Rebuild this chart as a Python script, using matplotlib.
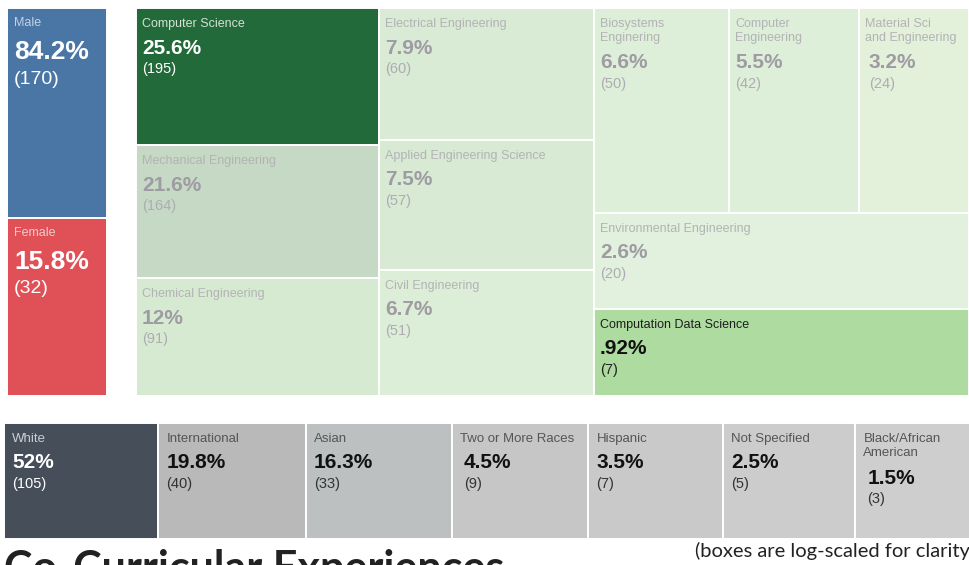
import numpy as np
import matplotlib.pyplot as plt

# ---- data ----
gender = ['Male', 'Female']
gender_pct = ['84.2%', '15.8%']
gender_n = [170, 32]

majors = ['Computer Science', 'Mechanical Engineering', 'Chemical Engineering',
          'Electrical Engineering', 'Applied Engineering Science', 'Civil Engineering',
          'Biosystems\nEnginering', 'Computer\nEngineering', 'Material Sci\nand Engineering',
          'Environmental Engineering', 'Computation Data Science']
major_pct = ['25.6%', '21.6%', '12%', '7.9%', '7.5%', '6.7%',
             '6.6%', '5.5%', '3.2%', '2.6%', '.92%']
major_n = [195, 164, 91, 60, 57, 51, 50, 42, 24, 20, 7]

ethnicity = ['White', 'International', 'Asian', 'Two or More Races', 'Hispanic',
             'Not Specified', 'Black/African\nAmerican']
eth_pct = ['52%', '19.8%', '16.3%', '4.5%', '3.5%', '2.5%', '1.5%']
eth_n = [105, 40, 33, 9, 7, 5, 3]

# ---- styles ----
gender_colors = ['#4a76a6', '#e05157']
major_colors = ['#226a39', '#c6d9c4', '#d6ead2', '#d9ebd5', '#d8ead4', '#dcedd8',
                '#ddefd9', '#ddefd9', '#e3f0da', '#e1f1dd', '#aedb9f']
eth_colors = ['#454e59', '#b9b9b9', '#bcc0c0', '#c6c6c6', '#c9c9c9', '#cccccc', '#cecece']

FONT = 'Liberation Sans'


def split(start, length, weights):
    w = np.asarray(weights, dtype=float)
    edges = start + length * np.concatenate([[0], np.cumsum(w)]) / w.sum()
    return edges[:-1], np.diff(edges)


def box(ax, x, y, w, h, color):
    ax.bar(x, h, width=w, bottom=y, align='edge', color=color,
           edgecolor='white', linewidth=1.4)


def box_text(ax, x, y, name, pct, n, tc, sizes, pct_dx=0):
    label_c, pct_c, n_c = tc
    s_lab, s_pct, s_n, d_pct, d_n = sizes
    extra = name.count('\n')
    ax.text(x, y + 16 + 7 * extra, name, color=label_c, fontsize=s_lab,
            family=FONT, va='center', ha='left', linespacing=1.2)
    py = y + d_pct + 15 * extra
    ax.text(x + pct_dx, py, pct, color=pct_c, fontsize=s_pct, family=FONT,
            fontweight='bold', va='center', ha='left')
    ax.text(x + pct_dx, py + d_n, '(%d)' % n, color=n_c, fontsize=s_n,
            family=FONT, va='center', ha='left')


fig = plt.figure(figsize=(9.69, 5.65), dpi=100)
ax = fig.add_axes([0, 0, 1, 1])
ax.set_xlim(0, 969)
ax.set_ylim(565, 0)
ax.axis('off')

# ---- gender panel (log-scaled heights) ----
gx, gy, gw, gh = 7, 8, 100, 388
tops, hs = split(gy, gh, np.log(gender_n) + 6.1)
for i in range(len(gender)):
    box(ax, gx, tops[i], gw, hs[i], gender_colors[i])
    ax.text(gx + 7, tops[i] + 15, gender[i], color='#f0c8cc' if i else '#c3d1e3',
            fontsize=9, family=FONT, va='center')
    ax.text(gx + 7, tops[i] + 44, gender_pct[i], color='white', fontsize=19,
            family=FONT, fontweight='bold', va='center')
    ax.text(gx + 7, tops[i] + 71, '(%d)' % gender_n[i], color='white',
            fontsize=14, family=FONT, va='center')

# ---- majors treemap ----
mx, my, mw, mh = 136, 8, 833, 388
col_share = [243, 215, 375]
columns = [[0, 1, 2], [3, 4, 5], None]
col_left, col_w = split(mx, mw, col_share)
logs = np.log(major_n)
rects = {}
for c in range(2):
    idx = columns[c]
    tops, hs = split(my, mh, logs[idx])
    for k, i in enumerate(idx):
        rects[i] = (col_left[c], tops[k], col_w[c], hs[k])
# third column: a row of three, then two full-width strips
row_tops, row_h = split(my, mh, [205, 96, 87])
lefts, ws = split(col_left[2], col_w[2], logs[[6, 7, 8]])
for k, i in enumerate([6, 7, 8]):
    rects[i] = (lefts[k], row_tops[0], ws[k], row_h[0])
rects[9] = (col_left[2], row_tops[1], col_w[2], row_h[1])
rects[10] = (col_left[2], row_tops[2], col_w[2], row_h[2])

for i in range(len(majors)):
    x, y, w, h = rects[i]
    box(ax, x, y, w, h, major_colors[i])
    if i == 0:
        tc = ('#d3e2d4', 'white', 'white')
    elif i == 10:
        tc = ('#1e1e1e', '#111111', '#222222')
    else:
        tc = ('#b3b3b5', '#9e9ba3', '#aeacb2')
    dx = 4 if i == 8 else 0
    box_text(ax, x + 6, y, majors[i], major_pct[i], major_n[i], tc,
             (9, 15, 10.5, 40, 21), pct_dx=dx)

# ---- ethnicity strip ----
ex, ey, ew, eh = 4, 423, 980, 116
lefts, ws = split(ex, ew, np.log(eth_n) + 16.6)
for i in range(len(ethnicity)):
    box(ax, lefts[i], ey, ws[i], eh, eth_colors[i])
    if i == 0:
        tc = ('#c9ced4', 'white', 'white')
    else:
        tc = ('#555555', '#111111', '#333333')
    dx = 4 if i in (3, 6) else 0
    box_text(ax, lefts[i] + 8, ey, ethnicity[i], eth_pct[i], eth_n[i], tc,
             (9.5, 15, 10.5, 40, 21), pct_dx=dx)

ax.text(4, 582, 'Co-Curricular Experiences', family='Lato', fontweight='bold',
        fontsize=31, color='#222222', va='baseline', ha='left')
ax.text(695, 557, '(boxes are log-scaled for clarity)', family='Lato',
        fontsize=14.5, color='#222222', va='baseline', ha='left')

fig.savefig('out.png', dpi=100, facecolor='white')
